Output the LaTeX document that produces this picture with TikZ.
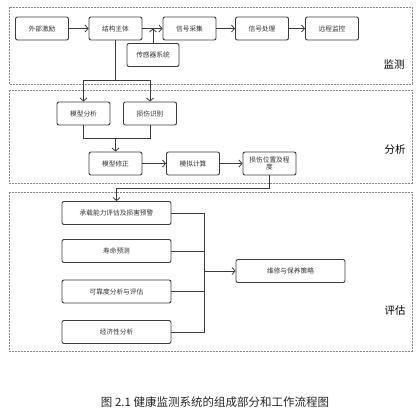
\documentclass[tikz,border=0pt]{standalone}
\usepackage{fontspec}
\setmainfont{Noto Sans CJK SC}
\usetikzlibrary{arrows.meta,positioning}
\definecolor{edge}{RGB}{60,60,60}
\definecolor{frame}{RGB}{135,135,135}
\tikzset{%
  box/.style={draw=edge, line width=0.9pt, rounded corners=2pt, fill=white,
    minimum width=53pt, minimum height=23pt, inner sep=1pt,
    text=black!80, font=\fontsize{6.7}{7.5}\selectfont},% process step
  widebox/.style={box, minimum width=109pt},% step in the evaluation part
  panel/.style={draw=frame, dash pattern=on 2pt off 1pt, line width=0.5pt},% stage frame
  tag/.style={font=\fontsize{10.5}{12}\selectfont},% stage name
  link/.style={draw=edge, line width=0.8pt},
  >={Straight Barb[length=3pt,width=7pt]}
}

\begin{document}
\begin{tikzpicture}[x=1pt, y=-1pt]
\useasboundingbox (0,0) rectangle (418,408);

\draw[panel] (9,7) rectangle (412,84);
\draw[panel] (9,90) rectangle (412,183);
\draw[panel] (9,192) rectangle (412,351);

\node[tag] (jiance) at (394,65) {监测};
\node[tag] (fenxi) at (395,150) {分析};
\node[tag] (pinggu) at (395,311) {评估};

% monitoring
\node[box] (waibu) at (42,28.5) {外部激励};
\node[box] (zhuti) at (115.5,28.5) {结构主体};
\node[box] (caiji) at (189.5,28.5) {信号采集};
\node[box] (chuli) at (262,28.5) {信号处理};
\node[box] (jiankong) at (332,28.5) {远程监控};
\node[box, minimum width=52pt] (chuanganqi) at (153,55) {传感器系统};

% analysis
\node[box] (moxing) at (83.5,113.5) {模型分析};
\node[box] (shibie) at (150,113.5) {损伤识别};
\node[box] (xiuzheng) at (115.5,163.5) {模型修正};
\node[box] (moni) at (193,163.5) {模拟计算};
\node[box, align=center] (weizhi) at (269.5,163.5) {损伤位置及程\\度};

% evaluation
\node[widebox] (chengzai) at (116.5,213) {承载能力评估及损害预警};
\node[widebox] (shouming) at (116.5,251) {寿命预测};
\node[widebox] (kekao) at (116.5,291.5) {可靠度分析与评估};
\node[widebox] (jingji) at (116.5,332) {经济性分析};
\node[widebox] (weixiu) at (290.5,271) {维修与保养策略};

\node[font=\fontsize{11.5}{13}\selectfont, text=black!85] (tuzhu) at (215,402) {图 2.1 健康监测系统的组成部分和工作流程图};

\coordinate (fen) at (115.5,80);
\coordinate (he) at (115.5,138);
\coordinate (zhuan) at (116.5,188);
\coordinate (hui) at (204,271);

\draw[link,->] (waibu) -- (zhuti);
\draw[link,->] (zhuti) -- (caiji);
\draw[link,->] (caiji) -- (chuli);
\draw[link,->] (chuli) -- (jiankong);
\draw[link,->] (chuanganqi) -- (chuanganqi |- zhuti.east);

\draw[link] (zhuti) -- (fen);
\draw[link,->] (fen) -| (moxing);
\draw[link,->] (fen) -| (shibie);
\draw[link] (moxing) |- (he);
\draw[link] (shibie) |- (he);
\draw[link,->] (he) -- (xiuzheng);
\draw[link,->] (xiuzheng) -- (moni);
\draw[link,->] (moni) -- (weizhi);

\draw[link,->] (weizhi) |- (zhuan) -- (chengzai);

\draw[link] (chengzai) -| (hui);
\draw[link] (jingji) -| (hui);
\draw[link] (shouming.east) -- (shouming.east -| hui);
\draw[link] (kekao.east) -- (kekao.east -| hui);
\draw[link,->] (hui) -- (weixiu);

\end{tikzpicture}
\end{document}
